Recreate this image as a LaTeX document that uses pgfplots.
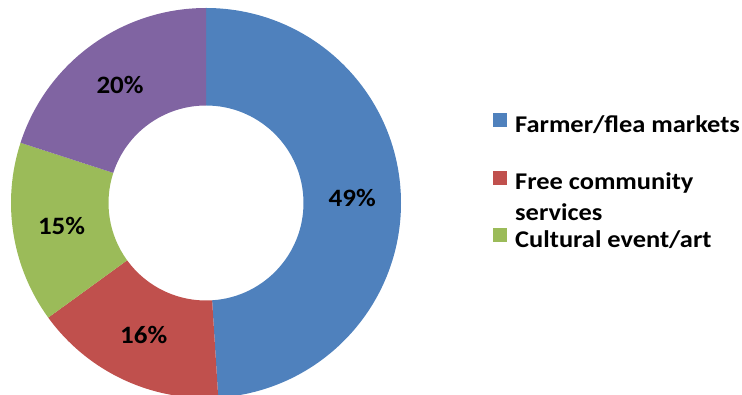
\documentclass[border=0pt]{standalone}
\usepackage{pgfplots}
\pgfplotsset{compat=1.18}
\usepackage{fontspec}
\setmainfont{Carlito}
\definecolor{c1}{HTML}{4F81BD}
\definecolor{c2}{HTML}{C0504D}
\definecolor{c3}{HTML}{9BBB59}
\definecolor{c4}{HTML}{8064A2}
% shares (percent)
\def\vA{49}\def\vB{16}\def\vC{15}\def\vD{20}
\pgfmathsetmacro\aA{90}
\pgfmathsetmacro\aB{\aA-\vA*3.6}
\pgfmathsetmacro\aC{\aB-\vB*3.6}
\pgfmathsetmacro\aD{\aC-\vC*3.6}
\pgfmathsetmacro\aE{\aD-\vD*3.6}
\newcommand\lblfont{\bfseries\fontsize{25}{29}\selectfont\addfontfeature{FakeStretch=1.08}}
\newcommand\legfont{\bfseries\fontsize{24}{28}\selectfont\addfontfeature{FakeStretch=1.1}}
\begin{document}
\begin{tikzpicture}[x=1pt,y=1pt]
\useasboundingbox (0,0) rectangle (742,395);
\begin{axis}[at={(11pt,-3pt)}, anchor=south west, scale only axis,
  width=390pt, height=390pt, xmin=-1, xmax=1, ymin=-1, ymax=1,
  hide axis, clip=false,
  legend style={at={(1.2359,0.7308)}, anchor=north west, draw=none, fill=none,
    inner sep=0pt, row sep=33.5pt, column sep=8pt,
    font=\legfont,
    nodes={inner sep=0pt, text height=15pt, text depth=5pt}},
  legend cell align=left,
  legend image code/.code={\fill[#1] (0pt,0pt) rectangle (14pt,14pt);}]
\addlegendimage{fill=c1, draw=none}
\addlegendentry{Farmer/flea markets}
\addlegendimage{fill=c2, draw=none}
\addlegendentry{\rlap{\raisebox{-31pt}[0pt][0pt]{services}}Free community}
\addlegendimage{fill=c3, draw=none}
\addlegendentry{Cultural event/art}

\fill[c1] (axis cs:{cos(\aA)},{sin(\aA)}) arc[start angle=\aA, end angle=\aB, radius=195pt]
  -- (axis cs:{0.5*cos(\aB)},{0.5*sin(\aB)}) arc[start angle=\aB, end angle=\aA, radius=97.5pt] -- cycle;
\fill[c2] (axis cs:{cos(\aB)},{sin(\aB)}) arc[start angle=\aB, end angle=\aC, radius=195pt]
  -- (axis cs:{0.5*cos(\aC)},{0.5*sin(\aC)}) arc[start angle=\aC, end angle=\aB, radius=97.5pt] -- cycle;
\fill[c3] (axis cs:{cos(\aC)},{sin(\aC)}) arc[start angle=\aC, end angle=\aD, radius=195pt]
  -- (axis cs:{0.5*cos(\aD)},{0.5*sin(\aD)}) arc[start angle=\aD, end angle=\aC, radius=97.5pt] -- cycle;
\fill[c4] (axis cs:{cos(\aD)},{sin(\aD)}) arc[start angle=\aD, end angle=\aE, radius=195pt]
  -- (axis cs:{0.5*cos(\aE)},{0.5*sin(\aE)}) arc[start angle=\aE, end angle=\aD, radius=97.5pt] -- cycle;

\node[font=\lblfont] at (axis cs:{0.75*cos((\aA+\aB)/2)},{0.75*sin((\aA+\aB)/2)}) {49\%};
\node[font=\lblfont] at (axis cs:{0.75*cos((\aB+\aC)/2)},{0.75*sin((\aB+\aC)/2)}) {16\%};
\node[font=\lblfont] at (axis cs:{0.75*cos((\aC+\aD)/2)},{0.75*sin((\aC+\aD)/2)}) {15\%};
\node[font=\lblfont] at (axis cs:{0.75*cos((\aD+\aE)/2)},{0.75*sin((\aD+\aE)/2)}) {20\%};
\end{axis}
\end{tikzpicture}
\end{document}
